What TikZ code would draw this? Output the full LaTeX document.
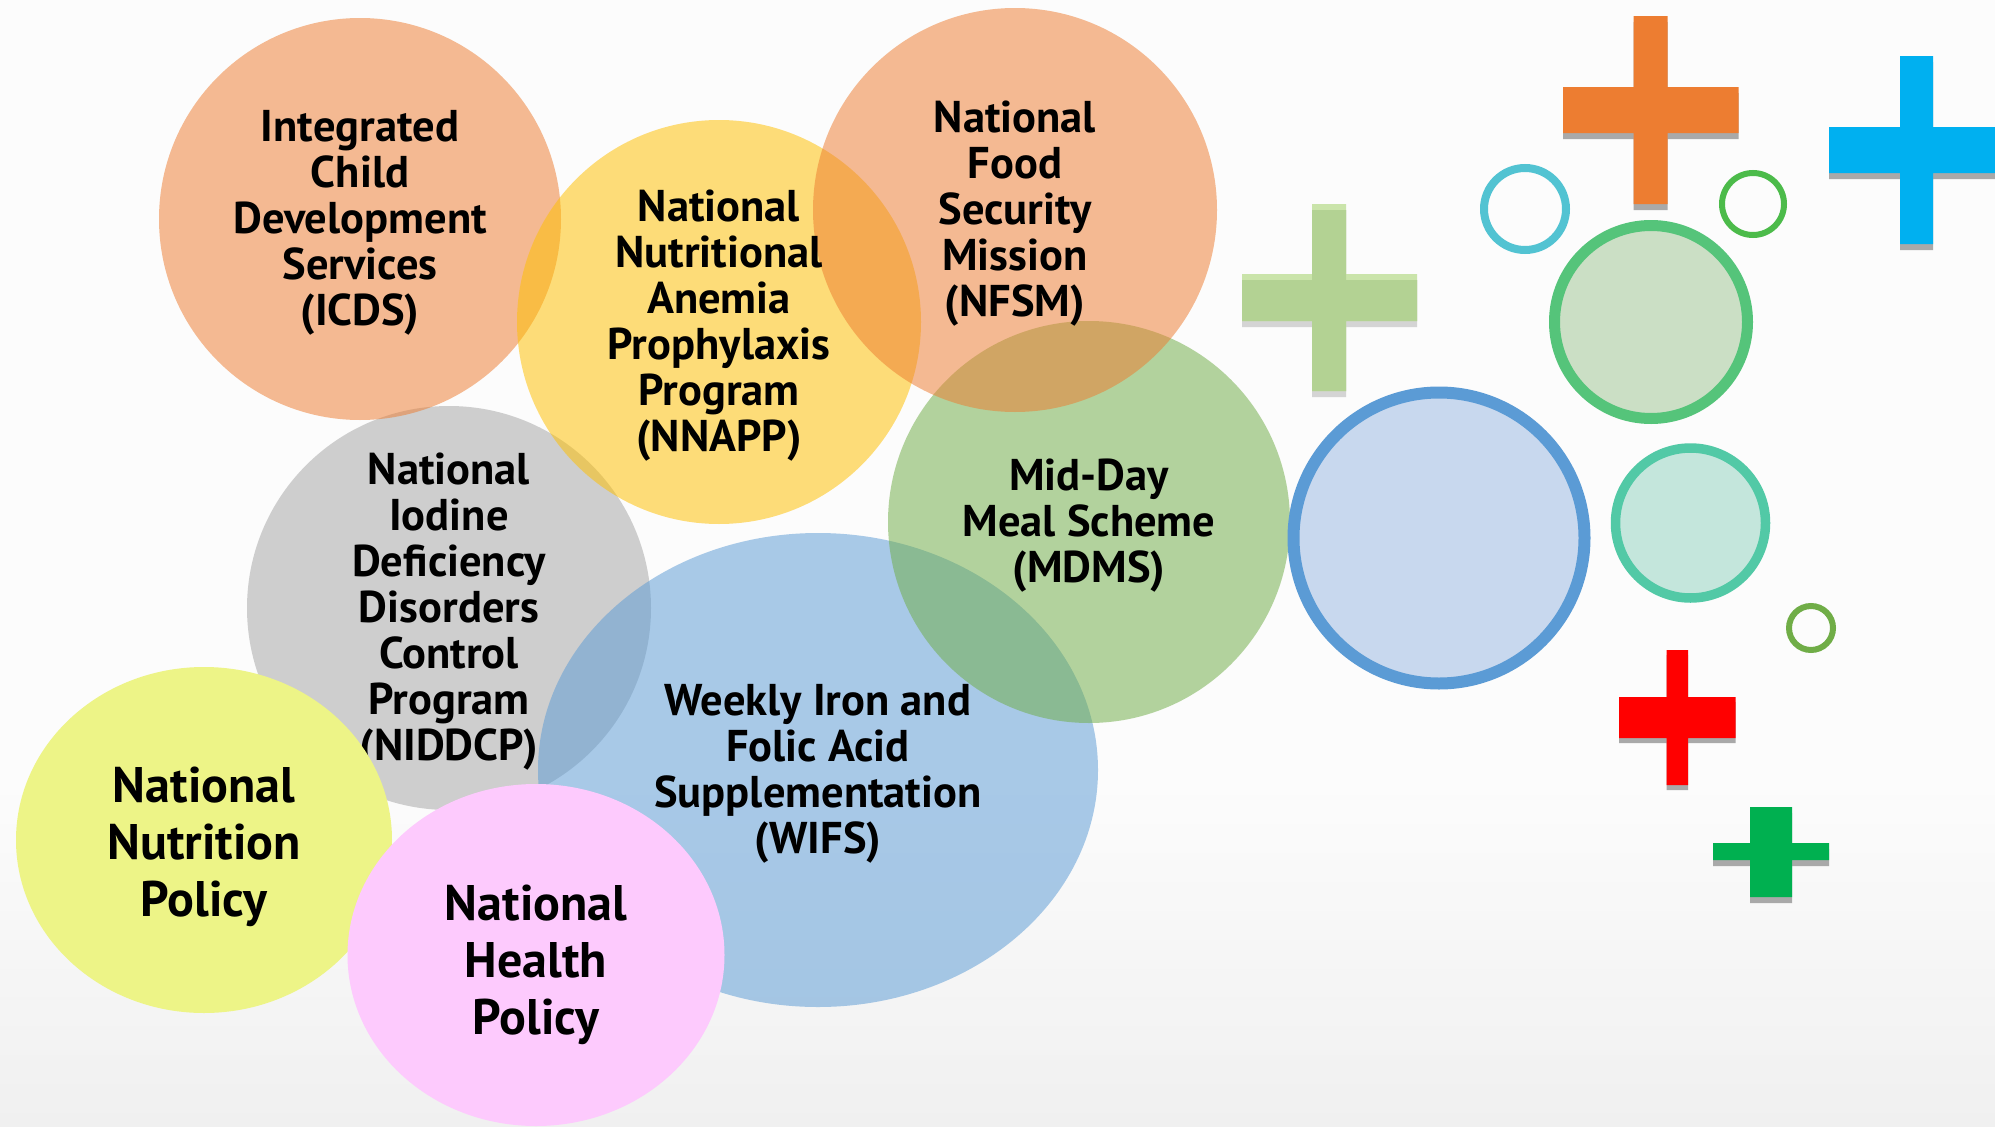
\documentclass[tikz,border=0pt]{standalone}
\usepackage{fontspec}
\setmainfont{PT Sans}
\usetikzlibrary{shapes.geometric}
\definecolor{bgcol}{HTML}{FCFCFC}
\definecolor{wavecol}{HTML}{F0F0F0}
\definecolor{corange}{HTML}{ED7D31}
\definecolor{cyellow}{HTML}{FFC000}
\definecolor{cgrey}{HTML}{A5A5A5}
\definecolor{cgreen}{HTML}{70AD47}
\definecolor{cblue}{HTML}{5B9BD5}
\definecolor{cnnp}{HTML}{EDF487}
\definecolor{cnhp}{HTML}{FDCAFD}
\definecolor{pshadow}{HTML}{A9A9A9}
\definecolor{pshadowlt}{HTML}{D4D4D4}
\definecolor{porange}{HTML}{ED7D31}
\definecolor{pblue}{HTML}{00B0F0}
\definecolor{plgreen}{HTML}{B3D293}
\definecolor{plgreenhi}{HTML}{CAE4AA}
\definecolor{pred}{HTML}{FF0000}
\definecolor{pgreen}{HTML}{00B050}
\definecolor{rcyan}{HTML}{52C3D2}
\definecolor{rgreen}{HTML}{4CBB4A}
\definecolor{rolive}{HTML}{70AD47}
\definecolor{bgstroke}{HTML}{55C47A}
\definecolor{bgfill}{HTML}{CBDFC5}
\definecolor{bbstroke}{HTML}{5B9BD5}
\definecolor{bbfill}{HTML}{C8D8EE}
\definecolor{btstroke}{HTML}{52C9A6}
\definecolor{btfill}{HTML}{C4E6DC}
\begin{document}
\begin{tikzpicture}[x=1pt,y=-1pt,
  bubble/.style={ellipse, draw=none, inner sep=0pt, fill opacity=0.52},
  solidbubble/.style={ellipse, draw=none, inner sep=0pt},
  lbl/.style={align=center, text=black, yshift=-4pt, font=\bfseries\fontsize{44.5}{46}\selectfont, inner sep=0pt},
  biglbl/.style={align=center, text=black, font=\bfseries\fontsize{50}{57}\selectfont, inner sep=0pt}]
\fill[bgcol] (0,0) rectangle (1995,1127);
\useasboundingbox (0,0) rectangle (1995,1127);
% faint background shading
\shade[top color=bgcol, bottom color=wavecol] (0,780) rectangle (1995,1127);

% translucent bubbles
\node[bubble, fill=cgrey, minimum width=404pt, minimum height=404pt] (niddcp) at (449,608) {};
\node[bubble, fill=cblue, minimum width=560pt, minimum height=474pt] (wifs) at (818,770) {};
\node[bubble, fill=cgreen, minimum width=402pt, minimum height=402pt] (mdms) at (1089,522) {};
\node[bubble, fill=corange, minimum width=402pt, minimum height=402pt] (icds) at (360,219) {};
\node[bubble, fill=cyellow, minimum width=404pt, minimum height=404pt] (nnapp) at (719,322) {};
\node[bubble, fill=corange, minimum width=404pt, minimum height=404pt] (nfsm) at (1015,210) {};

% labels
\node[lbl] (t-icds) at (icds.center) {Integrated\\Child\\Development\\Services\\(ICDS)};
\node[lbl] (t-nnapp) at (nnapp.center) {National\\Nutritional\\Anemia\\Prophylaxis\\Program\\(NNAPP)};
\node[lbl] (t-nfsm) at (nfsm.center) {National\\Food\\Security\\Mission\\(NFSM)};
\node[lbl] (t-niddcp) at (niddcp.center) {National\\Iodine\\Deficiency\\Disorders\\Control\\Program\\(NIDDCP)};
\node[lbl] (t-mdms) at (mdms.center) {Mid-Day\\Meal Scheme\\(MDMS)};
\node[lbl] (t-wifs) at (wifs.center) {Weekly Iron and\\Folic Acid\\Supplementation\\(WIFS)};

% opaque bubbles
\node[solidbubble, fill=cnnp, minimum width=376pt, minimum height=346pt] (nnp) at (204,840) {};
\node[biglbl] (t-nnp) at ([yshift=-7pt]nnp.center) {National\\Nutrition\\Policy};
\node[solidbubble, fill=cnhp, minimum width=377pt, minimum height=342pt] (nhp) at (536,955) {};
\node[biglbl] (t-nhp) at ([yshift=-10pt]nhp.center) {National\\Health\\Policy};

% decorative circles
\draw[bbstroke, fill=bbfill, line width=12pt] (1439,538) circle[radius=145.5pt];
\draw[bgstroke, fill=bgfill, line width=11pt] (1651,322) circle[radius=96.5pt];
\draw[btstroke, fill=btfill, line width=9.5pt] (1690.5,523) circle[radius=75pt];
\draw[rcyan, line width=8pt] (1525,209) circle[radius=41pt];
\draw[rgreen, line width=6pt] (1753,204) circle[radius=31pt];
\draw[rolive, line width=6pt] (1811,628) circle[radius=22pt];

% plus signs
% orange
\fill[pshadow, yshift=-6pt] (1633.6,16) rectangle (1667.5,204) (1563,87) rectangle (1738.5,133);
\fill[porange] (1633.6,16) rectangle (1667.5,204) (1563,87) rectangle (1738.5,133);
% blue
\fill[pshadow, yshift=-6pt] (1900,56) rectangle (1933,244) (1829,127) rectangle (1996,173);
\fill[pblue] (1900,56) rectangle (1933,244) (1829,127) rectangle (1996,173);
% light green
\fill[pshadowlt, yshift=-6pt] (1312,204) rectangle (1346,391) (1242,274) rectangle (1417,321);
\fill[plgreenhi] (1312,204) rectangle (1346,391) (1242,274) rectangle (1417,321);
\fill[plgreen] (1312,210) rectangle (1346,391) (1242,280) rectangle (1417,321);
% red
\fill[pshadow, yshift=-5pt] (1666.5,650) rectangle (1688,785) (1619,697) rectangle (1735.5,738);
\fill[pred] (1666.5,650) rectangle (1688,785) (1619,697) rectangle (1735.5,738);
% green
\fill[pshadow, yshift=-6pt] (1750,807) rectangle (1792,897) (1713,843) rectangle (1829,860);
\fill[pgreen] (1750,807) rectangle (1792,897) (1713,843) rectangle (1829,860);
\end{tikzpicture}
\end{document}
